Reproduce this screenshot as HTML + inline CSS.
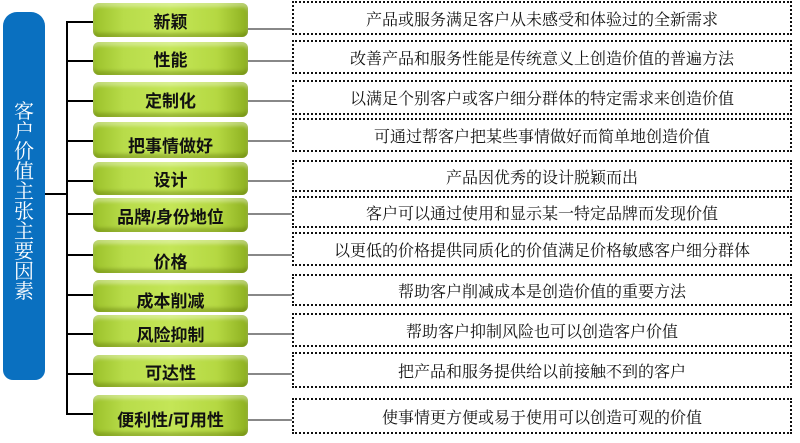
<!DOCTYPE html><html><head><meta charset="utf-8"><style>
body{margin:0;width:800px;height:443px;background:#fff;position:relative;overflow:hidden;font-family:"Liberation Sans","Noto Sans CJK SC",sans-serif}
.bar{position:absolute;left:3px;top:12px;width:42px;height:368px;background:#0a70c0;border-radius:14px 14px 10px 10px}
.bt{position:absolute;left:3px;top:100px;width:42px;color:#fff;font-size:20px;line-height:20px;text-align:center;font-family:"Noto Serif CJK SC","Liberation Serif",serif}
.g{position:absolute;left:93px;width:155px;border-radius:6px;background:linear-gradient(90deg,#9bc12a 0%,#b8dc4a 20%,#c4e657 50%,#b5d842 80%,#8db020 100%);box-shadow:inset 0 4px 3px rgba(255,255,255,.35),inset 0 -4px 3px rgba(80,100,0,.35);font-weight:bold;font-size:17px;color:#111;display:flex;align-items:center;justify-content:center}
.d{position:absolute;left:292px;width:500px;border:2px dotted #111;font-size:16px;color:#111;text-align:center;display:flex;align-items:center;justify-content:center;box-sizing:border-box;font-family:"Liberation Serif","Noto Serif CJK SC",serif}
.h{position:absolute;height:2px;background:#000}
.c{position:absolute;left:248px;width:44px;height:2px;background:#888}
</style></head><body>
<div class="bar"></div>
<div class="bt">客<br>户<br>价<br>值<br>主<br>张<br>主<br>要<br>因<br>素</div>
<div class="h" style="left:45px;top:193px;width:22px"></div>
<div style="position:absolute;left:66px;top:21px;width:2px;height:394px;background:#000"></div>
<div class="h" style="left:66px;top:21px;width:27px"></div>
<div class="h" style="left:66px;top:60px;width:27px"></div>
<div class="h" style="left:66px;top:100px;width:27px"></div>
<div class="h" style="left:66px;top:140px;width:27px"></div>
<div class="h" style="left:66px;top:180px;width:27px"></div>
<div class="h" style="left:66px;top:213px;width:27px"></div>
<div class="h" style="left:66px;top:254px;width:27px"></div>
<div class="h" style="left:66px;top:294px;width:27px"></div>
<div class="h" style="left:66px;top:333px;width:27px"></div>
<div class="h" style="left:66px;top:373px;width:27px"></div>
<div class="h" style="left:66px;top:413px;width:27px"></div>

<div class="g" style="top:3px;height:34px">新颖</div>
<div class="g" style="top:42px;height:33px">性能</div>
<div class="g" style="top:82px;height:35px">定制化</div>
<div class="g" style="top:122px;height:36px;padding-top:8px;box-sizing:border-box">把事情做好</div>
<div class="g" style="top:162px;height:33px">设计</div>
<div class="g" style="top:198px;height:34px">品牌/身份地位</div>
<div class="g" style="top:240px;height:33px;padding-top:8px;box-sizing:border-box">价格</div>
<div class="g" style="top:280px;height:32px;padding-top:6px;box-sizing:border-box">成本削减</div>
<div class="g" style="top:315px;height:32px;padding-top:4px;box-sizing:border-box">风险抑制</div>
<div class="g" style="top:355px;height:32px">可达性</div>
<div class="g" style="top:395px;height:41px;padding-top:6px;box-sizing:border-box">便利性/可用性</div>

<div class="c" style="top:28px"></div>
<div class="c" style="top:60px"></div>
<div class="c" style="top:100px"></div>
<div class="c" style="top:140px"></div>
<div class="c" style="top:180px"></div>
<div class="c" style="top:213px"></div>
<div class="c" style="top:254px"></div>
<div class="c" style="top:294px"></div>
<div class="c" style="top:333px"></div>
<div class="c" style="top:373px"></div>
<div class="c" style="top:419px"></div>

<div class="d" style="top:1px;height:34px">产品或服务满足客户从未感受和体验过的全新需求</div>
<div class="d" style="top:40px;height:34px">改善产品和服务性能是传统意义上创造价值的普遍方法</div>
<div class="d" style="top:80px;height:35px">以满足个别客户或客户细分群体的特定需求来创造价值</div>
<div class="d" style="top:118px;height:34px">可通过帮客户把某些事情做好而简单地创造价值</div>
<div class="d" style="top:160px;height:32px">产品因优秀的设计脱颖而出</div>
<div class="d" style="top:196px;height:32px">客户可以通过使用和显示某一特定品牌而发现价值</div>
<div class="d" style="top:232px;height:34px">以更低的价格提供同质化的价值满足价格敏感客户细分群体</div>
<div class="d" style="top:274px;height:32px">帮助客户削减成本是创造价值的重要方法</div>
<div class="d" style="top:313px;height:34px">帮助客户抑制风险也可以创造客户价值</div>
<div class="d" style="top:352px;height:36px">把产品和服务提供给以前接触不到的客户</div>
<div class="d" style="top:398px;height:36px">使事情更方便或易于使用可以创造可观的价值</div>
</body></html>
